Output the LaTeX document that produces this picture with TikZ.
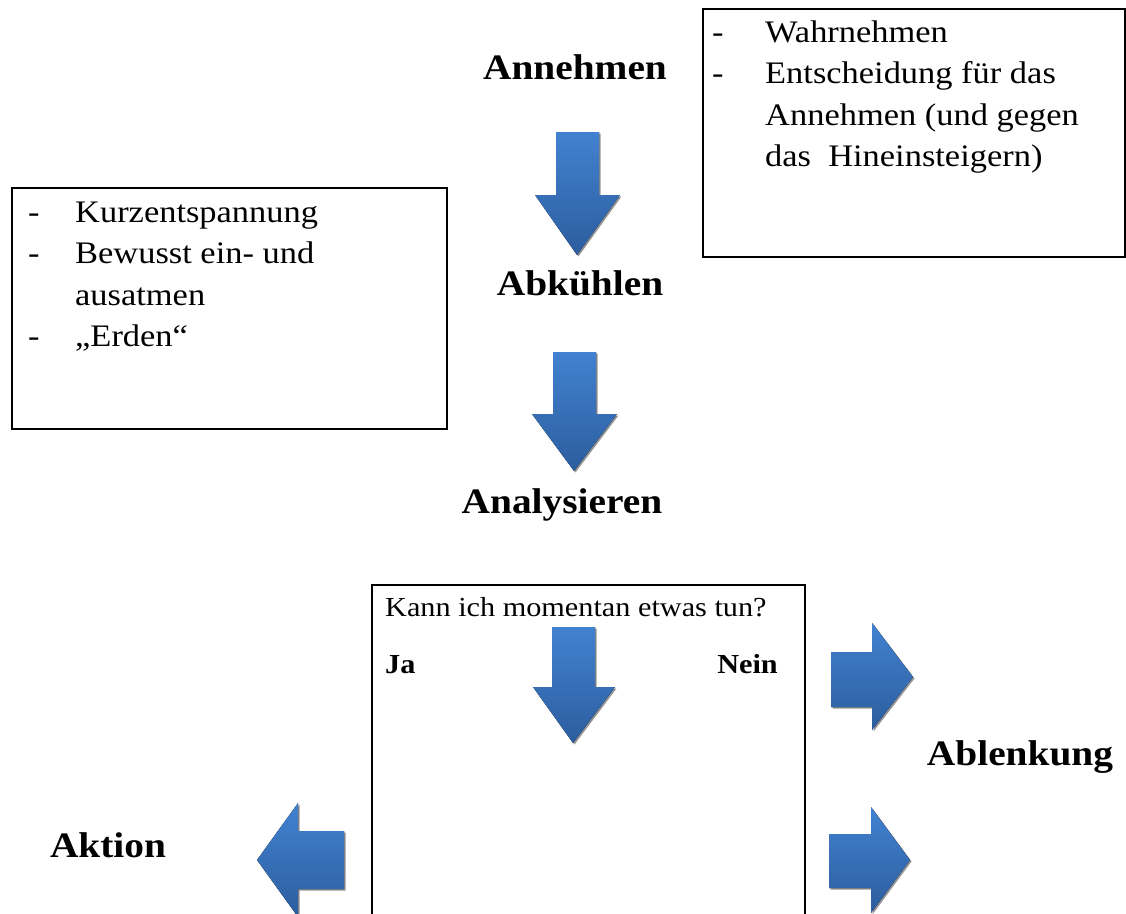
\documentclass[tikz,border=0pt]{standalone}
\usepackage{fontspec}
\setmainfont[FakeStretch=1.1]{Liberation Serif}
\usepackage{array}
\definecolor{arrowtop}{RGB}{66,130,208}
\definecolor{arrowbot}{RGB}{44,93,158}
\definecolor{arrowshade}{RGB}{150,150,150}
\newcommand{\shapearrow}[1]{%
  \fill[arrowshadow] #1;%
  \fill[blockarrow] #1;}
\newcommand{\bodyfont}{\fontsize{31.3}{41.5}\selectfont}
\newcommand{\smallbody}{\fontsize{27.5}{36}\selectfont}
\newcommand{\headfont}{\fontsize{35.8}{42}\selectfont\bfseries}
\begin{document}
\begin{tikzpicture}[x=1pt,y=-1pt,
  blockarrow/.style={top color=arrowtop, bottom color=arrowbot, draw=none},
  arrowshadow/.style={fill=arrowshade, shift={(1.5,1.5)}},
  framebox/.style={draw=black, line width=1.6pt, inner sep=0pt, anchor=north west},
  listtext/.style={inner sep=0pt, anchor=base west, font=\bodyfont},
  heading/.style={inner sep=0pt, anchor=base, font=\headfont},
  boxtext/.style={inner sep=0pt, font=\smallbody}]
\useasboundingbox (0,0) rectangle (1126,913);
\clip (0,0) rectangle (1126,913);

% frames
\node[framebox, minimum width=422pt, minimum height=248pt] (wbox) at (702,8) {};
\node[framebox, minimum width=435pt, minimum height=241pt] (kbox) at (11,187) {};
\node[framebox, minimum width=433pt, minimum height=400pt] (qbox) at (371,584) {};

% list texts
\node[listtext] (wlist) at (712,42) {\begin{tabular}[t]{@{}p{53pt}@{}l@{}}
- & Wahrnehmen\\
- & Entscheidung für das\\
  & Annehmen (und gegen\\
  & das\ \ Hineinsteigern)
\end{tabular}};
\node[listtext] (klist) at (28,222) {\begin{tabular}[t]{@{}p{47pt}@{}l@{}}
- & Kurzentspannung\\
- & Bewusst ein- und\\
  & ausatmen\\
- & „Erden“
\end{tabular}};

% headings
\node[heading] (annehmen) at (575,79) {Annehmen};
\node[heading] (abkuehlen) at (580,295) {Abkühlen};
\node[heading] (analysieren) at (562,513) {Analysieren};
\node[heading] (ablenkung) at (1020,765) {Ablenkung};
\node[heading] (aktion) at (108,857) {Aktion};

% question box texts
\node[boxtext, anchor=base west] (frage) at (385,616) {Kann ich momentan etwas tun?};
\node[boxtext, anchor=base west, font=\smallbody\bfseries] (ja) at (385,673) {Ja};
\node[boxtext, anchor=base east, font=\smallbody\bfseries] (nein) at (778,673) {Nein};

% block arrows (down)
\shapearrow{(556,132) -- (599,132) -- (599,195) -- (620,195) -- (577,255) -- (535,195) -- (556,195) -- cycle}
\shapearrow{(553,352) -- (596,352) -- (596,414) -- (617,414) -- (574,471) -- (532,414) -- (553,414) -- cycle}
\shapearrow{(552,627) -- (595,627) -- (595,687) -- (615,687) -- (573,743) -- (533,687) -- (552,687) -- cycle}
% right arrows
\shapearrow{(831,652) -- (872,652) -- (872,623) -- (913,677) -- (872,730) -- (872,707) -- (831,707) -- cycle}
\shapearrow{(829,834) -- (871,834) -- (871,807) -- (910,860) -- (871,913) -- (871,888) -- (829,888) -- cycle}
% left arrow
\shapearrow{(344,831) -- (298,831) -- (298,803) -- (257,860) -- (298,917) -- (298,889) -- (344,889) -- cycle}
\end{tikzpicture}
\end{document}
